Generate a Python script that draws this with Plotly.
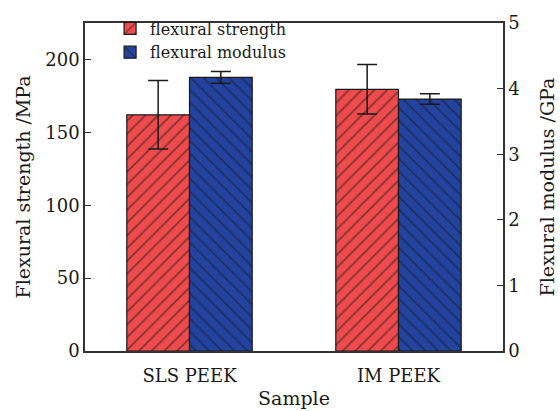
import plotly.graph_objects as go

# Sample groups and measured values
samples = ["SLS PEEK", "IM PEEK"]
strength_mpa = [162.0, 179.5]
strength_err = [23.5, 17.0]
modulus_gpa = [4.17, 3.84]
modulus_err = [0.09, 0.08]

x_pos = list(range(len(samples)))
bar_w = 0.3
font_family = "DejaVu Serif"
ink = "#1a1a1a"

fig = go.Figure()

fig.add_trace(go.Bar(
    name="flexural strength",
    x=x_pos, y=strength_mpa,
    width=bar_w, offset=-bar_w,
    marker=dict(color="#EF4B4C",
                line=dict(color=ink, width=1.2),
                pattern=dict(shape="/", fgcolor=ink, bgcolor="#EF4B4C",
                             size=9, solidity=0.2)),
    error_y=dict(type="data", array=strength_err, color=ink,
                 thickness=1.5, width=10),
    yaxis="y",
))

fig.add_trace(go.Bar(
    name="flexural modulus",
    x=x_pos, y=modulus_gpa,
    width=bar_w, offset=0,
    marker=dict(color="#2243A0",
                line=dict(color=ink, width=1.2),
                pattern=dict(shape="\\", fgcolor=ink, bgcolor="#2243A0",
                             size=9, solidity=0.2)),
    error_y=dict(type="data", array=modulus_err, color=ink,
                 thickness=1.5, width=10),
    yaxis="y2",
))

tick_font = dict(family=font_family, size=18, color=ink)
title_font = dict(family=font_family, size=19, color=ink)

fig.update_layout(
    width=560, height=411,
    margin=dict(l=85, r=57, t=15, b=60),
    paper_bgcolor="white", plot_bgcolor="white",
    barmode="overlay",
    font=dict(family=font_family, size=17, color=ink),
    showlegend=True,
    legend=dict(x=0.06, y=1.035, xanchor="left", yanchor="top",
                bgcolor="rgba(0,0,0,0)", borderwidth=0,
                font=dict(family=font_family, size=16, color=ink),
                tracegroupgap=0, itemwidth=30),
    xaxis=dict(
        range=[-0.5, 1.5], automargin=False,
        tickmode="array", tickvals=x_pos, ticktext=samples,
        ticks="", showline=True, linecolor="#333", linewidth=1.5,
        mirror=True, showgrid=False, zeroline=False,
        tickfont=tick_font, ticklabelstandoff=8,
        title=dict(text="Sample", font=title_font, standoff=6),
    ),
    yaxis=dict(
        range=[0, 225], automargin=False,
        tickvals=[0, 50, 100, 150, 200],
        ticks="inside", ticklen=6, tickwidth=1.2, tickcolor="#333",
        showline=True, linecolor="#333", linewidth=1.5,
        showgrid=False, zeroline=False,
        tickfont=tick_font,
        title=dict(text="Flexural strength /MPa", font=title_font, standoff=10),
    ),
    yaxis2=dict(
        range=[0, 5], automargin=False,
        tickvals=[0, 1, 2, 3, 4, 5],
        overlaying="y", side="right",
        ticks="inside", ticklen=6, tickwidth=1.2, tickcolor="#333",
        showline=True, linecolor="#333", linewidth=1.5,
        showgrid=False, zeroline=False,
        tickfont=tick_font,
        title=dict(text="Flexural modulus /GPa", font=title_font, standoff=22),
    ),
)

fig.write_html("out.html")
